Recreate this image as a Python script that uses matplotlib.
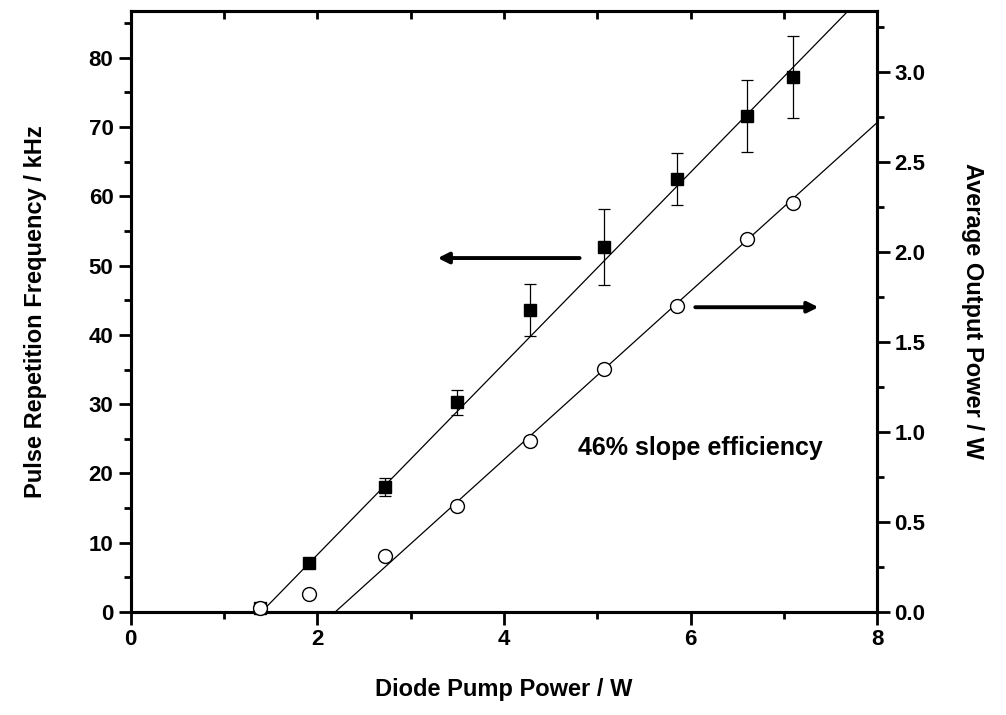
import matplotlib.pyplot as plt
import numpy as np
from matplotlib.ticker import MultipleLocator

plt.rcParams['font.family'] = ['Liberation Sans', 'DejaVu Sans']
plt.rcParams['font.weight'] = 'bold'

# measured points
pump = [1.38, 1.91, 2.72, 3.50, 4.28, 5.07, 5.85, 6.60, 7.10]
freq_khz = [0.6, 7.1, 18.1, 30.3, 43.6, 52.7, 62.5, 71.6, 77.2]
freq_err = [0.0, 0.0, 1.3, 1.8, 3.7, 5.5, 3.7, 5.2, 5.9]
power_w = [0.02, 0.10, 0.31, 0.59, 0.95, 1.35, 1.70, 2.07, 2.27]

# linear fits: threshold (W) and slope
freq_threshold, freq_slope = 1.40, 13.8
power_threshold, power_slope = 2.19, 0.468

fig, ax = plt.subplots(figsize=(10.06, 7.15), dpi=100)
fig.subplots_adjust(left=0.130, right=0.872, top=0.985, bottom=0.144)
ax2 = ax.twinx()

ax.set_xlim(0, 8)
ax.set_ylim(0, 86.8)
ax2.set_ylim(0, 3.34)

# fit lines
xf = np.linspace(freq_threshold, 8, 50)
ax.plot(xf, freq_slope * (xf - freq_threshold), color='black', lw=0.9)
xp = np.linspace(power_threshold, 8, 50)
ax2.plot(xp, power_slope * (xp - power_threshold), color='black', lw=0.9)

ax.errorbar(pump, freq_khz, yerr=freq_err, fmt='s', color='black', ms=8.5,
            elinewidth=0.9, capsize=4.5, capthick=0.9, zorder=5, clip_on=False)
ax2.plot(pump, power_w, 'o', mfc='white', mec='black', ms=10, mew=1.0,
         zorder=5, clip_on=False)

# arrows pointing to the axes
ax.annotate('', xy=(3.26, 51.1), xytext=(4.84, 51.1),
            arrowprops=dict(arrowstyle='-|>', lw=2.8, color='black',
                            mutation_scale=16))
ax.annotate('', xy=(7.4, 44.0), xytext=(6.02, 44.0),
            arrowprops=dict(arrowstyle='-|>', lw=2.8, color='black',
                            mutation_scale=16))

ax.text(6.1, 23.7, '46% slope efficiency', fontsize=18, fontweight='bold',
        ha='center', va='center')

ax.set_xlabel('Diode Pump Power / W', fontsize=17, fontweight='bold', labelpad=20)
ax.set_ylabel('Pulse Repetition Frequency / kHz', fontsize=17, fontweight='bold',
              labelpad=30)
ax2.set_ylabel('Average Output Power / W', fontsize=17, fontweight='bold',
               rotation=270, labelpad=42)

ax.xaxis.set_major_locator(MultipleLocator(2))
ax.xaxis.set_minor_locator(MultipleLocator(1))
ax.yaxis.set_major_locator(MultipleLocator(10))
ax.yaxis.set_minor_locator(MultipleLocator(5))
ax2.yaxis.set_major_locator(MultipleLocator(0.5))
ax2.yaxis.set_minor_locator(MultipleLocator(0.25))
ax2.yaxis.set_major_formatter(lambda v, p: f'{v:.1f}')

for a in (ax, ax2):
    a.tick_params(which='major', length=9, width=2, labelsize=16, direction='out')
    a.tick_params(which='minor', length=5, width=2, direction='out')
    for s in a.spines.values():
        s.set_linewidth(2.2)
for lab in ax.get_xticklabels() + ax.get_yticklabels() + ax2.get_yticklabels():
    lab.set_fontweight('bold')

top = ax.secondary_xaxis('top')
top.xaxis.set_major_locator(MultipleLocator(1))
top.tick_params(direction='in', length=6, width=2, labeltop=False)

plt.savefig('out.png', dpi=100)
